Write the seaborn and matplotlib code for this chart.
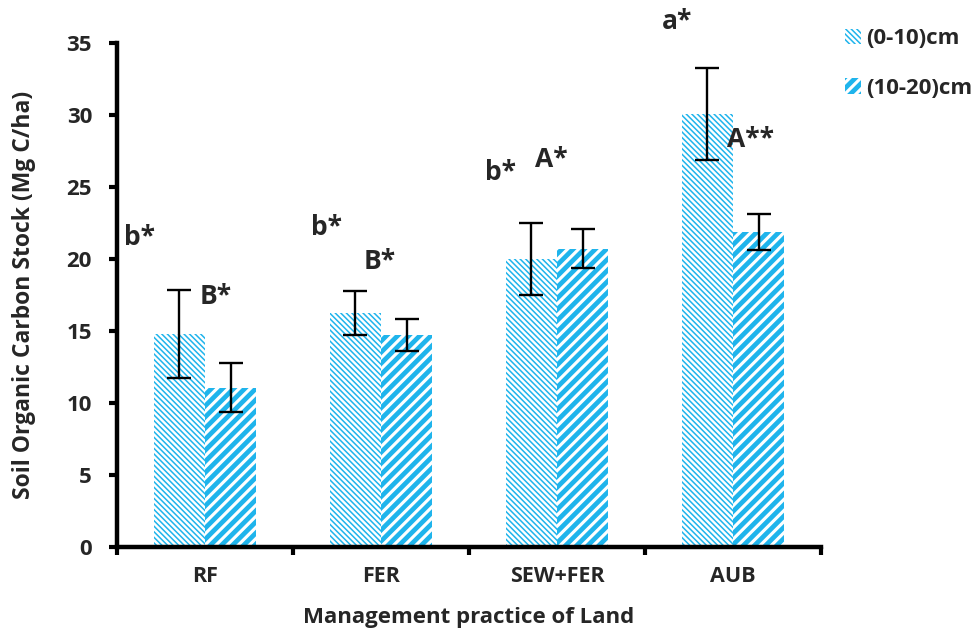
import matplotlib
matplotlib.use("Agg")
import matplotlib.pyplot as plt
import seaborn as sns
import pandas as pd
import numpy as np
from matplotlib.patches import Patch

practices = ["RF", "FER", "SEW+FER", "AUB"]
depths = ["(0-10)cm", "(10-20)cm"]
soc_0_10 = [14.8, 16.25, 20.0, 30.05]
soc_10_20 = [11.05, 14.7, 20.7, 21.9]
err_0_10 = [3.05, 1.5, 2.5, 3.2]
err_10_20 = [1.7, 1.1, 1.35, 1.25]
letters_0_10 = ["b*", "b*", "b*", "a*"]
letters_10_20 = ["B*", "B*", "A*", "A**"]
letter_y_0_10 = [21.5, 22.2, 26.0, 36.5]
letter_y_10_20 = [17.4, 19.8, 26.9, 28.3]
letter_dx_0_10 = [-0.37, -0.31, -0.32, -0.32]
letter_dx_10_20 = [0.06, -0.01, -0.03, 0.10]

sns.set_theme(style="white")
plt.rcParams['font.family'] = ['Open Sans', 'DejaVu Sans']
plt.rcParams['font.weight'] = 'bold'
plt.rcParams['hatch.linewidth'] = 1.6

df = pd.DataFrame({
    "practice": practices * 2,
    "depth": [depths[0]] * 4 + [depths[1]] * 4,
    "soc": soc_0_10 + soc_10_20,
    "err": err_0_10 + err_10_20,
})

blue = "#1fb4ec"
fig = plt.figure(figsize=(9.76, 6.36), dpi=100)
ax = fig.add_axes([117/976, 89/636, 704/976, 504/636])

sns.barplot(data=df, x="practice", y="soc", hue="depth", order=practices,
            hue_order=depths, errorbar=None, width=0.58,
            palette=["white", "white"], ax=ax, legend=False, saturation=1)

bar_conts = list(ax.containers)
hatches = ["\\\\\\\\\\\\", "///"]
hlw = [1.1, 3.4]
for ci, cont in enumerate(bar_conts):
    for p in cont:
        p.set_hatch(hatches[ci])
        p.set_edgecolor(blue)
        p.set_linewidth(0)
        try:
            p.set_hatch_linewidth(hlw[ci])
        except Exception:
            pass

errs = [err_0_10, err_10_20]
vals = [soc_0_10, soc_10_20]
for ci, cont in enumerate(bar_conts):
    xs = [p.get_x() + p.get_width() / 2 for p in cont]
    ax.errorbar(xs, vals[ci], yerr=errs[ci], fmt="none", ecolor="black",
                elinewidth=1.7, capsize=8.5, capthick=1.7, zorder=5)

# significance letters
for i in range(4):
    ax.text(i + letter_dx_0_10[i], letter_y_0_10[i], letters_0_10[i], fontsize=19,
            fontweight="bold", ha="center", va="center", clip_on=False)
    ax.text(i + letter_dx_10_20[i], letter_y_10_20[i], letters_10_20[i], fontsize=19,
            fontweight="bold", ha="center", va="center", clip_on=False)

ax.set_ylim(0, 35)
ax.set_xlim(-0.5, 3.5)
ax.set_yticks(np.arange(0, 36, 5))
ax.set_yticklabels([str(v) for v in range(0, 36, 5)], fontsize=16, fontweight="bold")
ax.set_xticks(range(4))
ax.set_xticklabels(practices, fontsize=15.5, fontweight="bold")
ax.tick_params(axis="x", length=0, pad=14)
ax.set_xticks(np.arange(-0.5, 3.6, 1), minor=True)
ax.tick_params(axis="x", which="minor", length=6, width=3, direction="out", color="black", bottom=True)
ax.tick_params(axis="y", length=6, width=3, direction="out", color="black", pad=12, left=True)
for s in ["top", "right"]:
    ax.spines[s].set_visible(False)
for s in ["left", "bottom"]:
    ax.spines[s].set_linewidth(3.2)
    ax.spines[s].set_color("black")
ax.set_xlabel("Management practice of Land", fontsize=16, fontweight="bold", labelpad=14)
ax.set_ylabel("Soil Organic Carbon Stock (Mg C/ha)", fontsize=16.5, fontweight="bold", labelpad=22)

handles = []
for ci in range(2):
    h = Patch(facecolor="white", edgecolor=blue, hatch=hatches[ci], linewidth=0)
    handles.append(h)
leg = fig.legend(handles, depths, loc="upper left", bbox_to_anchor=(834/976, 1 - 17/636),
                 frameon=False, fontsize=16, labelspacing=1.3, handlelength=0.7,
                 handleheight=0.7, handletextpad=0.25, borderpad=0)
for t in leg.get_texts():
    t.set_fontweight("bold")
for ci, h in enumerate(leg.legend_handles):
    try:
        h.set_hatch_linewidth(hlw[ci])
    except Exception:
        pass

fig.savefig("out.png", dpi=100)
